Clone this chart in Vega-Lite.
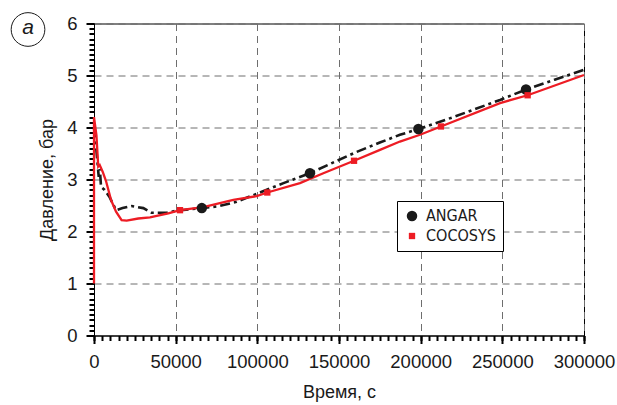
{
  "$schema": "https://vega.github.io/schema/vega-lite/v6.json",
  "width": 490,
  "height": 312,
  "autosize": {"type": "none"},
  "padding": {"left": 94, "top": 23.5, "right": 33, "bottom": 69.5},
  "background": "white",
  "config": {
    "view": {"stroke": "black", "strokeWidth": 1},
    "font": "Liberation Sans",
    "axis": {
      "domainColor": "black",
      "labelColor": "#1a1a1a",
      "titleColor": "#1a1a1a",
      "labelFont": "Liberation Sans",
      "titleFont": "Liberation Sans",
      "titleFontWeight": "normal"
    },
    "axisX": {"ticks": true, "tickColor": "black", "tickWidth": 2, "tickOpacity": 1},
    "axisY": {"ticks": true, "tickColor": "black", "tickWidth": 2, "tickOpacity": 1}
  },
  "datasets": {
    "angar": [
      {"t": 0, "p": 4.0}, {"t": 1500, "p": 3.55}, {"t": 2900, "p": 3.05}, {"t": 3600, "p": 3.2},
      {"t": 4300, "p": 2.86}, {"t": 6500, "p": 2.8}, {"t": 9400, "p": 2.67}, {"t": 13500, "p": 2.41},
      {"t": 17500, "p": 2.45}, {"t": 23100, "p": 2.49}, {"t": 30200, "p": 2.45}, {"t": 35300, "p": 2.36},
      {"t": 44500, "p": 2.36}, {"t": 50600, "p": 2.4}, {"t": 66000, "p": 2.45}, {"t": 75100, "p": 2.48},
      {"t": 87300, "p": 2.57}, {"t": 101600, "p": 2.75}, {"t": 116000, "p": 2.93}, {"t": 132200, "p": 3.12},
      {"t": 146000, "p": 3.32}, {"t": 160800, "p": 3.53}, {"t": 175000, "p": 3.71}, {"t": 187300, "p": 3.86},
      {"t": 198600, "p": 3.97}, {"t": 220000, "p": 4.2}, {"t": 248600, "p": 4.53}, {"t": 264500, "p": 4.73},
      {"t": 282000, "p": 4.92}, {"t": 300000, "p": 5.11}
    ],
    "cocosys": [
      {"t": 0, "p": 1.0}, {"t": 0, "p": 4.2}, {"t": 1500, "p": 3.85}, {"t": 2600, "p": 3.25},
      {"t": 3500, "p": 3.28}, {"t": 5300, "p": 3.15}, {"t": 7350, "p": 2.97}, {"t": 10500, "p": 2.6},
      {"t": 13500, "p": 2.38}, {"t": 16900, "p": 2.22}, {"t": 20000, "p": 2.21}, {"t": 27100, "p": 2.25},
      {"t": 34300, "p": 2.27}, {"t": 38400, "p": 2.3}, {"t": 45500, "p": 2.35}, {"t": 52650, "p": 2.41},
      {"t": 66900, "p": 2.47}, {"t": 85300, "p": 2.61}, {"t": 99600, "p": 2.68}, {"t": 106100, "p": 2.75},
      {"t": 126100, "p": 2.93}, {"t": 140400, "p": 3.12}, {"t": 159200, "p": 3.36}, {"t": 175100, "p": 3.57},
      {"t": 187300, "p": 3.73}, {"t": 199600, "p": 3.86}, {"t": 212400, "p": 4.02}, {"t": 248600, "p": 4.47},
      {"t": 265500, "p": 4.62}, {"t": 300000, "p": 5.01}
    ],
    "markers": [
      {"series": "ANGAR", "t": 66000, "p": 2.45},
      {"series": "ANGAR", "t": 132200, "p": 3.12},
      {"series": "ANGAR", "t": 198600, "p": 3.97},
      {"series": "ANGAR", "t": 264500, "p": 4.73},
      {"series": "COCOSYS", "t": 52650, "p": 2.41},
      {"series": "COCOSYS", "t": 106100, "p": 2.75},
      {"series": "COCOSYS", "t": 159200, "p": 3.36},
      {"series": "COCOSYS", "t": 212400, "p": 4.02},
      {"series": "COCOSYS", "t": 265500, "p": 4.62}
    ],
    "panel": [
      {"t": -40400, "p": 5.885, "label": "a"}
    ]
  },
  "layer": [
    {
      "data": {"name": "angar"},
      "mark": {"type": "line", "color": "#1a1a1a", "strokeWidth": 2.6, "strokeDash": [10, 4, 3, 4]},
      "encoding": {
        "x": {
          "field": "t", "type": "quantitative",
          "scale": {"domain": [0, 300000], "nice": false, "zero": false},
          "axis": {
            "orient": "bottom",
            "values": [0, 50000, 100000, 150000, 200000, 250000, 300000],
            "format": "d",
            "grid": true, "gridColor": "#6e6e6e", "gridDash": [7, 5], "gridWidth": 1,
            "tickSize": 8, "labelPadding": 9, "labelFontSize": 18.5, "labelFlush": false,
            "title": "Время, с", "titleFontSize": 18, "titlePadding": 12
          }
        },
        "y": {
          "field": "p", "type": "quantitative",
          "scale": {"domain": [0, 6], "nice": false},
          "axis": {
            "orient": "left",
            "values": [0, 1, 2, 3, 4, 5, 6],
            "format": "d",
            "grid": true, "gridColor": "#6e6e6e", "gridDash": [7, 5], "gridWidth": 1,
            "tickSize": 8, "labelPadding": 9, "labelFontSize": 18.5, "labelFlush": false,
            "title": "Давление, бар", "titleFontSize": 18, "titlePadding": 10
          }
        }
      }
    },
    {
      "data": {"name": "cocosys"},
      "mark": {"type": "line", "color": "#ed1c24", "strokeWidth": 2.3},
      "encoding": {
        "x": {
          "field": "t", "type": "quantitative",
          "axis": {
            "orient": "bottom",
            "values": [0,5000,10000,15000,20000,25000,30000,35000,40000,45000,50000,55000,60000,65000,70000,75000,80000,85000,90000,95000,100000,105000,110000,115000,120000,125000,130000,135000,140000,145000,150000,155000,160000,165000,170000,175000,180000,185000,190000,195000,200000,205000,210000,215000,220000,225000,230000,235000,240000,245000,250000,255000,260000,265000,270000,275000,280000,285000,290000,295000,300000],
            "labels": false, "grid": false, "domain": false, "tickSize": 5, "title": null
          }
        },
        "y": {
          "field": "p", "type": "quantitative",
          "axis": {
            "orient": "left",
            "values": [0,0.1,0.2,0.3,0.4,0.5,0.6,0.7,0.8,0.9,1,1.1,1.2,1.3,1.4,1.5,1.6,1.7,1.8,1.9,2,2.1,2.2,2.3,2.4,2.5,2.6,2.7,2.8,2.9,3,3.1,3.2,3.3,3.4,3.5,3.6,3.7,3.8,3.9,4,4.1,4.2,4.3,4.4,4.5,4.6,4.7,4.8,4.9,5,5.1,5.2,5.3,5.4,5.5,5.6,5.7,5.8,5.9,6],
            "labels": false, "grid": false, "domain": false, "tickSize": 5, "title": null
          }
        }
      }
    },
    {
      "data": {"name": "markers"},
      "mark": {"type": "point", "filled": true, "opacity": 1},
      "encoding": {
        "x": {"field": "t", "type": "quantitative", "axis": null},
        "y": {"field": "p", "type": "quantitative", "axis": null},
        "color": {
          "field": "series", "type": "nominal",
          "scale": {"domain": ["ANGAR", "COCOSYS"], "range": ["#1a1a1a", "#ed1c24"]},
          "legend": {
            "title": null,
            "orient": "none",
            "legendX": 303,
            "legendY": 177.5,
            "strokeColor": "black",
            "fillColor": "white",
            "padding": 7,
            "labelFont": "DejaVu Sans Condensed",
            "labelFontSize": 16,
            "labelColor": "#1a1a1a",
            "labelOffset": 6,
            "rowPadding": 4,
            "symbolStrokeWidth": 0
          }
        },
        "shape": {
          "field": "series", "type": "nominal",
          "scale": {"domain": ["ANGAR", "COCOSYS"], "range": ["circle", "square"]}
        },
        "size": {
          "field": "series", "type": "nominal",
          "scale": {"domain": ["ANGAR", "COCOSYS"], "range": [110, 40]}
        }
      }
    },
    {
      "data": {"name": "panel"},
      "mark": {"type": "point", "shape": "circle", "filled": false, "size": 1134, "stroke": "#1a1a1a", "strokeWidth": 1, "opacity": 1},
      "encoding": {
        "x": {"field": "t", "type": "quantitative", "axis": null},
        "y": {"field": "p", "type": "quantitative", "axis": null}
      }
    },
    {
      "data": {"name": "panel"},
      "mark": {"type": "text", "font": "Liberation Sans", "fontStyle": "italic", "fontSize": 21, "color": "#1a1a1a", "baseline": "middle", "align": "center", "dy": -1},
      "encoding": {
        "x": {"field": "t", "type": "quantitative", "axis": null},
        "y": {"field": "p", "type": "quantitative", "axis": null},
        "text": {"field": "label"}
      }
    }
  ],
  "resolve": {"axis": {"x": "independent", "y": "independent"}}
}
